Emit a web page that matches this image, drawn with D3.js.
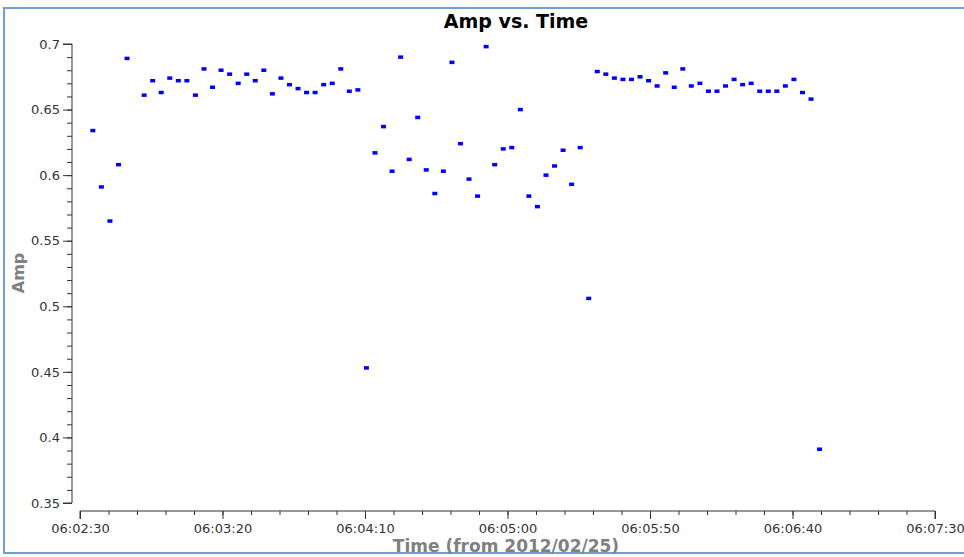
<!DOCTYPE html>
<html><head><meta charset="utf-8">
<script src="https://cdn.jsdelivr.net/npm/d3@7/dist/d3.min.js"></script>
<style>body{margin:0;background:#fff;overflow:hidden}</style>
</head><body>
<svg id="c" width="964" height="557" xmlns="http://www.w3.org/2000/svg"></svg>
<script>
const times = [
"06:02:34.5","06:02:37.5","06:02:40.5","06:02:43.5","06:02:46.5",
"06:02:52.5","06:02:55.5","06:02:58.5","06:03:01.5","06:03:04.5","06:03:07.5","06:03:10.5","06:03:13.5","06:03:16.5","06:03:19.5",
"06:03:22.5","06:03:25.5","06:03:28.5","06:03:31.5","06:03:34.5","06:03:37.5","06:03:40.5","06:03:43.5","06:03:46.5","06:03:49.5",
"06:03:52.5","06:03:55.5","06:03:58.5","06:04:01.5","06:04:04.5","06:04:07.5",
"06:04:10.5","06:04:13.5","06:04:16.5","06:04:19.5","06:04:22.5","06:04:25.5","06:04:28.5","06:04:31.5","06:04:34.5","06:04:37.5",
"06:04:40.5","06:04:43.5","06:04:46.5","06:04:49.5","06:04:52.5","06:04:55.5","06:04:58.5","06:05:01.5","06:05:04.5","06:05:07.5",
"06:05:10.5","06:05:13.5","06:05:16.5","06:05:19.5","06:05:22.5","06:05:25.5","06:05:28.5","06:05:31.5","06:05:34.5","06:05:37.5",
"06:05:40.5","06:05:43.5","06:05:46.5","06:05:49.5","06:05:52.5","06:05:55.5","06:05:58.5","06:06:01.5","06:06:04.5","06:06:07.5",
"06:06:10.5","06:06:13.5","06:06:16.5","06:06:19.5","06:06:22.5","06:06:25.5","06:06:28.5","06:06:31.5","06:06:34.5","06:06:37.5",
"06:06:40.5","06:06:43.5","06:06:46.5","06:06:49.5"
];
const amps = [
0.634,0.591,0.565,0.608,0.689,
0.661,0.672,0.663,0.674,0.672,0.672,0.661,0.681,0.667,0.680,
0.677,0.670,0.677,0.672,0.680,0.662,0.674,0.669,0.666,0.663,
0.663,0.669,0.670,0.681,0.664,0.665,
0.453,0.617,0.637,0.603,0.690,0.612,0.644,0.604,0.586,0.603,
0.686,0.624,0.597,0.584,0.698,0.608,0.620,0.621,0.650,0.584,
0.576,0.600,0.607,0.619,0.593,0.621,0.506,0.679,0.677,0.674,
0.673,0.673,0.675,0.672,0.668,0.678,0.667,0.681,0.668,0.670,
0.664,0.664,0.668,0.673,0.669,0.670,0.664,0.664,0.664,0.668,
0.673,0.663,0.658,0.391
];
const yMajorTicks = [0.35,0.4,0.45,0.5,0.55,0.6,0.65,0.7];
const xMajorTickLabels = ["06:02:30","06:03:20","06:04:10","06:05:00","06:05:50","06:06:40","06:07:30"];
const titleText = "Amp vs. Time";
const xTitle = "Time (from 2012/02/25)";
const yTitle = "Amp";

const toSec = s => { const p = s.split(":").map(Number); return p[0]*3600 + p[1]*60 + p[2]; };
const pad = n => String(n).padStart(2, "0");
const fmtTime = v => { const h = Math.floor(v/3600), m = Math.floor((v%3600)/60), s = Math.round(v%60); return pad(h)+":"+pad(m)+":"+pad(s); };

const svg = d3.select("#c");
const font = "DejaVu Sans, sans-serif";

// frame
svg.append("rect").attr("x",4).attr("y",8).attr("width",980).attr("height",545)
  .attr("fill","none").attr("stroke","#6f9fd6").attr("stroke-width",2);

const xMajor = xMajorTickLabels.map(toSec);
const x = d3.scaleLinear().domain([xMajor[0], xMajor[xMajor.length-1]]).range([80, 935]);
const y = d3.scaleLinear().domain([0.35, 0.7]).range([503, 44]);

const xMinor = d3.range(xMajor[0], xMajor[xMajor.length-1] + 0.001, 10);
const yMinor = d3.range(35, 70.5, 1).map(v => v/100);

// y axis
const yAxisMinor = d3.axisLeft(y).tickValues(yMinor).tickSize(5).tickFormat("");
const yAxisMajor = d3.axisLeft(y).tickValues(yMajorTicks).tickSize(9).tickPadding(3)
  .tickFormat(v => String(+v.toFixed(2)));
const gyMin = svg.append("g").attr("transform","translate(72,0)").call(yAxisMinor);
const gy = svg.append("g").attr("transform","translate(72,0)").call(yAxisMajor);
gyMin.select(".domain").remove();
gy.select(".domain").attr("d", `M-9,${y(0.7)}H0V${y(0.35)}H-9`);

// x axis
const xAxisMinor = d3.axisBottom(x).tickValues(xMinor).tickSize(4).tickFormat("");
const xAxisMajor = d3.axisBottom(x).tickValues(xMajor).tickSize(8).tickPadding(5).tickFormat(fmtTime);
const gxMin = svg.append("g").attr("transform","translate(0,511)").call(xAxisMinor);
const gx = svg.append("g").attr("transform","translate(0,511)").call(xAxisMajor);
gxMin.select(".domain").remove();
gx.select(".domain").attr("d", `M${x.range()[0]},8V0H${x.range()[1]}V8`);

[gy, gx, gyMin, gxMin].forEach(g => {
  g.selectAll("line").attr("stroke","#333");
  g.selectAll(".domain").attr("stroke","#333");
  g.selectAll("text").attr("fill","#333").style("font-family",font).style("font-size","13px");
});

// points
svg.append("g").selectAll("rect").data(times.map((t,i)=>({t:toSec(t), v:amps[i]})))
  .join("rect")
  .attr("x", d => x(d.t) - 2.5).attr("y", d => y(d.v) - 1.75)
  .attr("width",5).attr("height",3.5).attr("fill","#0000ff");

// titles
svg.append("text").attr("x",516).attr("y",28).attr("text-anchor","middle")
  .style("font-family",font).style("font-weight","bold").style("font-size","19px").attr("fill","#000")
  .text(titleText);
svg.append("text").attr("x",506).attr("y",552).attr("text-anchor","middle")
  .style("font-family",font).style("font-weight","bold").style("font-size","17px").attr("fill","#808080")
  .text(xTitle);
svg.append("text").attr("transform","translate(24,273) rotate(-90)").attr("text-anchor","middle")
  .style("font-family",font).style("font-weight","bold").style("font-size","16px").attr("fill","#808080")
  .text(yTitle);
</script>
</body></html>
